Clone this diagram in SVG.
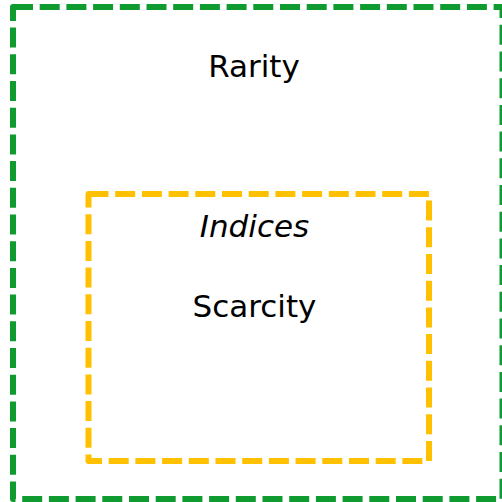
<svg xmlns="http://www.w3.org/2000/svg" width="502" height="502" viewBox="0 0 502 502">
<style>
.box{fill:none;stroke-width:6;stroke-dasharray:20 6.7;stroke-linejoin:round}
.t{font-family:"DejaVu Sans",Verdana,sans-serif;font-size:31px;fill:#000;text-anchor:middle}
</style>
<rect width="502" height="502" fill="#fff"/>
<g id="rarity">
<rect class="box" x="13" y="7" width="489.5" height="492" stroke="#109b30"/>
<text class="t" x="254" y="77.3">Rarity</text>
</g>
<g id="scarcity">
<rect class="box" x="88.5" y="194" width="340.5" height="267" stroke="#ffc000"/>
<text class="t" x="254.5" y="236.7" font-style="italic">Indices</text>
<text class="t" x="254.5" y="317.3">Scarcity</text>
</g>
<g id="connectors"/>
</svg>
